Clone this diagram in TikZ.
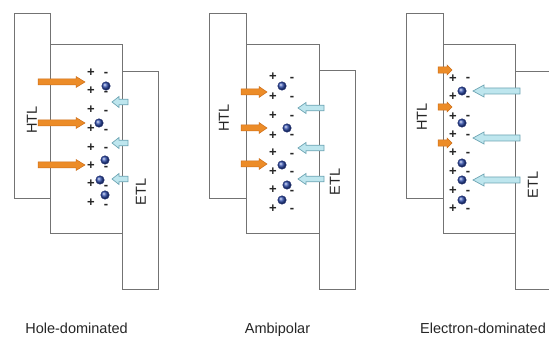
\documentclass[tikz,border=0pt]{standalone}
\usepackage{fontspec}
\setmainfont{Liberation Sans}
\begin{document}
\begin{tikzpicture}[x=1pt,y=-1pt,
  layer/.style={draw=black!55,line width=0.9pt,fill=white},
  hole/.style={fill={rgb,255:red,236;green,140;blue,40},draw={rgb,255:red,205;green,110;blue,25},line width=0.5pt},
  elec/.style={fill={rgb,255:red,190;green,230;blue,238},draw={rgb,255:red,110;green,165;blue,180},line width=0.7pt},
  lab/.style={font=\fontsize{14.5}{16}\selectfont,inner sep=0pt,text=black!85},
  chg/.style={font=\fontsize{13}{14}\selectfont\bfseries,inner sep=0pt,text=black!85},
  dot/.style={circle,inner sep=0pt,minimum size=8.5pt,draw={rgb,255:red,25;green,40;blue,110},line width=0.4pt,shading=ball,ball color={rgb,255:red,50;green,80;blue,175}}
]
\useasboundingbox (0,0) rectangle (549,339);
\fill[white] (0,0) rectangle (549,339);
% #1 style, #2 tail x, #3 head base x, #4 tip x, #5 y, #6 shaft half, #7 head half
\newcommand{\barrow}[7]{%
  \filldraw[#1] ({#2},{#5-#6}) -- ({#3},{#5-#6}) -- ({#3},{#5-#7}) -- ({#4},{#5}) -- ({#3},{#5+#7}) -- ({#3},{#5+#6}) -- ({#2},{#5+#6}) -- cycle;}

% ---------------- Panel 1 ----------------
\draw[layer] (14,13) rectangle (50,198);
\draw[layer] (50,44) rectangle (122,233);
\draw[layer] (122,71) rectangle (158,289);
\node[lab,rotate=90] (htl1) at (32,120) {HTL};
\node[lab,rotate=90] (etl1) at (141,192) {ETL};
\barrow{hole}{38}{76}{85}{82}{3}{5.5}
\barrow{hole}{38}{76}{85}{123}{3}{5.5}
\barrow{hole}{38}{76}{85}{165}{3}{5.5}
\barrow{elec}{128}{119}{112}{102}{2.8}{5.5}
\barrow{elec}{128}{119}{112}{143}{2.8}{5.5}
\barrow{elec}{128}{119}{112}{179}{2.8}{5.5}
\foreach \i/\yp/\ym in {a/73/74,b/91/93,c/110/112,d/129/131,e/148/149,f/166/168,g/184/187,h/203/206}{
  \node[chg] (p1\i) at (91,\yp) {+};
  \node[chg] (m1\i) at (106,\ym) {-};
}
\foreach \i/\x/\y in {a/106/86,b/99/123,c/105/160,d/100/180,e/105/195}{
  \node[dot] (d1\i) at (\x,\y) {};
}
\node[lab,anchor=base] (t1) at (76.5,333) {Hole-dominated};

% ---------------- Panel 2 ----------------
\draw[layer] (209,13) rectangle (246,198);
\draw[layer] (246,44) rectangle (319,233);
\draw[layer] (319,70) rectangle (355,289);
\node[lab,rotate=90] (htl2) at (224,118) {HTL};
\node[lab,rotate=90] (etl2) at (335,182) {ETL};
\barrow{hole}{241}{259}{267}{92}{3}{5.5}
\barrow{hole}{241}{259}{267}{128}{3}{5.5}
\barrow{hole}{241}{259}{267}{164}{3}{5.5}
\barrow{elec}{324}{306}{298}{108}{2.8}{5.5}
\barrow{elec}{324}{306}{298}{148}{2.8}{5.5}
\barrow{elec}{324}{306}{298}{179}{2.8}{5.5}
\foreach \i/\yp/\ym in {a/77/79,b/97/98,c/116/117,d/136/136,e/153/155,f/172/173,g/190/192,h/209/210}{
  \node[chg] (p2\i) at (273,\yp) {+};
  \node[chg] (m2\i) at (292,\ym) {-};
}
\foreach \i/\x/\y in {a/282/86,b/287/128,c/282/165,d/287/185,e/282/200}{
  \node[dot] (d2\i) at (\x,\y) {};
}
\node[lab,anchor=base] (t2) at (277.5,333) {Ambipolar};

% ---------------- Panel 3 ----------------
\draw[layer] (406,13) rectangle (443,198);
\draw[layer] (443,44) rectangle (515,233);
\draw[layer,fill=none] (549,71) -- (515,71) -- (515,289) -- (549,289);
\node[lab,rotate=90] (htl3) at (422,117) {HTL};
\node[lab,rotate=90] (etl3) at (533,185) {ETL};
\barrow{hole}{438}{447}{452}{70}{3.2}{5}
\barrow{hole}{438}{447}{452}{107}{3.2}{5}
\barrow{hole}{438}{447}{452}{143}{3.2}{5}
\barrow{elec}{520}{484}{473}{91}{3}{6}
\barrow{elec}{520}{484}{473}{138}{3}{6}
\barrow{elec}{520}{484}{473}{180}{3}{6}
\foreach \i/\yp/\ym in {a/79/79,b/97/98,c/117/117,d/135/136,e/153/154,f/172/173,g/191/192,h/209/210}{
  \node[chg] (p3\i) at (453,\yp) {+};
  \node[chg] (m3\i) at (468,\ym) {-};
}
\foreach \i/\x/\y in {a/462/91,b/462/123,c/462/163,d/462/180,e/462/200}{
  \node[dot] (d3\i) at (\x,\y) {};
}
\node[lab,anchor=base] (t3) at (483,333) {Electron-dominated};
\end{tikzpicture}
\end{document}
